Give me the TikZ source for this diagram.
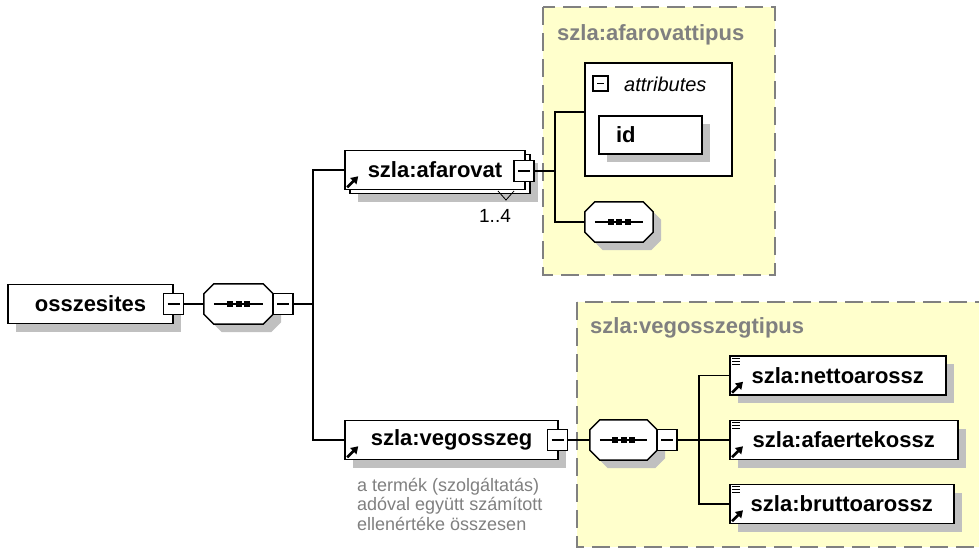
\documentclass[tikz,border=0pt]{standalone}
\usepackage{fontspec}
\setmainfont{Liberation Sans}
\usetikzlibrary{shadows,arrows.meta}

\definecolor{typefill}{HTML}{FFFFCC}
\definecolor{typeline}{HTML}{808080}
\definecolor{shadowgray}{HTML}{C0C0C0}

\tikzstyle{elembox}=[rectangle, draw, line width=1.5pt, fill=white, minimum height=39pt, inner sep=0pt, font=\fontsize{22}{26}\selectfont\bfseries]
\tikzstyle{elem}=[elembox, drop shadow={shadow xshift=8pt, shadow yshift=-8pt, fill=shadowgray, opacity=1}]
\tikzstyle{minusbox}=[rectangle, draw, line width=1.2pt, fill=white, minimum width=20pt, minimum height=21pt, inner sep=0pt,
  path picture={\draw[line width=1.2pt] ([xshift=4pt]path picture bounding box.west) -- ([xshift=-4pt]path picture bounding box.east);}]
\tikzstyle{sequence}=[rectangle, minimum width=69pt, minimum height=40pt, inner sep=0pt]
\tikzstyle{typebox}=[fill=typefill, draw=typeline, line width=1.5pt, dash pattern=on 18pt off 8pt]
\tikzstyle{typetitle}=[inner sep=0pt, text=typeline, font=\fontsize{22}{26}\selectfont\bfseries]
\tikzstyle{attrbox}=[rectangle, draw, line width=1.5pt, fill=white, inner sep=0pt]
\tikzstyle{attrtext}=[inner sep=0pt, font=\fontsize{20}{24}\selectfont\itshape]
\tikzstyle{annot}=[inner sep=0pt, text=typeline, font=\fontsize{18}{20}\selectfont]
\tikzstyle{count}=[inner sep=0pt, font=\fontsize{19}{22}\selectfont]
\tikzstyle{conn}=[draw, line width=1.2pt]
\tikzstyle{refarrow}=[line width=2.6pt, -{Triangle[length=7pt,width=8.5pt]}]

% octagon round a sequence node
\newcommand{\octpath}[1]{([xshift=10pt]#1.north west) -- ([xshift=-10pt]#1.north east) -- ([yshift=-10pt]#1.north east)
  -- ([yshift=10pt]#1.south east) -- ([xshift=-10pt]#1.south east) -- ([xshift=10pt]#1.south west)
  -- ([yshift=10pt]#1.south west) -- ([yshift=-10pt]#1.north west) -- cycle}
\newcommand{\seqshape}[1]{
  \fill[shadowgray, transform canvas={shift={(8pt,-8pt)}}] \octpath{#1};
  \filldraw[fill=white, line width=1.5pt] \octpath{#1};
  \draw[line width=1.5pt] ([xshift=10pt]#1.west) -- ([xshift=-10pt]#1.east);
  \foreach \d in {-8.5,0,8.5} \fill ([xshift=\d pt]#1.center) ++(-3pt,-3pt) rectangle ++(6pt,6pt);
}
\newcommand{\reficon}[1]{\draw[refarrow] ([shift={(3,-3)}]#1.south west) -- ++(11,-11);}
\newcommand{\simpleicon}[1]{\foreach \d in {3,6,9} \draw[line width=1.2pt] ([shift={(3,\d)}]#1.north west) -- ++(8,0);}

\begin{document}
\begin{tikzpicture}[x=1pt, y=-1pt]

    \clip (0,0) rectangle (979,555);
    \fill[white] (0,0) rectangle (979,555);

    % type boxes
    \draw[typebox] (543,7) rectangle (775,275);
    \node[typetitle, anchor=base west] (afarovattipus) at (557,40) {szla:afarovattipus};
    \draw[typebox] (577,302) rectangle (995,547);
    \node[typetitle, anchor=base west] (vegosszegtipus) at (590,333) {szla:vegosszegtipus};

    % root and its sequence
    \node[elem, minimum width=165] (osszesites) at (90.5,304) {osszesites};
    \node[minusbox] (osszesitesm) at (173.5,304) {};
    \node[sequence] (seqa) at (238.5,304) {};
    \seqshape{seqa}
    \node[minusbox] (seqam) at (283,304) {};
    \coordinate (ba) at (313,304);

    % szla:afarovat
    \node[elem, minimum width=180] (afarovatback) at (440,174) {};
    \node[elembox, minimum width=180] (afarovat) at (435,170) {szla:afarovat};
    \reficon{afarovat}
    \node[minusbox] (afarovatm) at (524,171) {};
    \draw[line width=0.8pt] (498,191) -- (506,200) -- (514,191);
    \node[count] (afarovatcount) at (495,216) {1..4};
    \coordinate (bb) at (555,171);

    \node[attrbox, minimum width=147, minimum height=113] (attributes) at (658.5,119.5) {};
    \node[minusbox, minimum width=15, minimum height=15] (attributesm) at (600.5,83.5) {};
    \node[attrtext, anchor=west] (attributestext) at (624,84) {attributes};
    \node[elem, minimum width=103, minimum height=38, text width=69pt, inner xsep=17pt, align=left] (id) at (650.5,135) {id};
    \node[sequence, minimum width=68] (seqb) at (619,222) {};
    \seqshape{seqb}

    % szla:vegosszeg
    \node[elem, minimum width=213] (vegosszeg) at (451.5,440) {szla:vegosszeg};
    \reficon{vegosszeg}
    \node[minusbox] (vegosszegm) at (557.5,440) {};
    \foreach \y/\txt in {491/a termék (szolgáltatás), 510.5/adóval együtt számított, 530/ellenértéke összesen}
        \node[annot, anchor=base west] at (357,\y) {\txt};

    \node[sequence, minimum width=67] (seqc) at (623.5,440) {};
    \seqshape{seqc}
    \node[minusbox] (seqcm) at (667,440) {};
    \coordinate (bc) at (699,440);

    \foreach \y/\name/\w in {375.5/nettoarossz/216, 440/afaertekossz/228, 504/bruttoarossz/224}{
        \node[elem, minimum width=\w, anchor=west] (\name) at (729,\y) {szla:\name};
        \reficon{\name}
        \simpleicon{\name}
    }

    % connectors
    \path[conn] (osszesitesm.east) -- (seqa.west);
    \path[conn] (seqam.east) -- (ba);
    \foreach \dest in {afarovat, vegosszeg}
        \path[conn] (ba) |- (\dest.west);
    \path[conn] (afarovatm.east) -- (bb);
    \path[conn] (bb) |- ([yshift=7.5pt]attributes.west);
    \path[conn] (bb) |- (seqb.west);
    \path[conn] (vegosszegm.east) -- (seqc.west);
    \path[conn] (seqcm.east) -- (bc);
    \foreach \dest in {nettoarossz, afaertekossz, bruttoarossz}
        \path[conn] (bc) |- (\dest.west);

\end{tikzpicture}
\end{document}
